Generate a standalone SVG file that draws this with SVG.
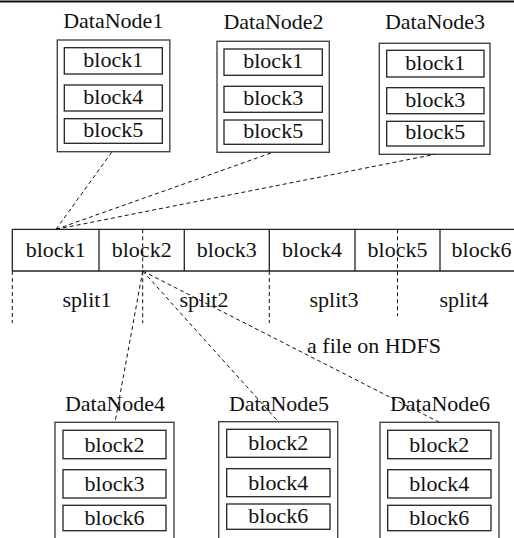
<svg xmlns="http://www.w3.org/2000/svg" width="514" height="538" viewBox="0 0 514 538">
  <style>
    text { font-family: "Liberation Serif", "Times New Roman", Times, serif; font-size: 22px; fill: #111; text-anchor: middle; }
    .node { fill: none; stroke: #444; stroke-width: 1.4; }
    .blk { fill: none; stroke: #222; stroke-width: 1.3; }
    .bar { fill: none; stroke: #222; stroke-width: 1.3; }
    .dash { fill: none; stroke: #111; stroke-width: 1; stroke-dasharray: 4 3; }
  </style>
  <rect width="514" height="538" fill="#fff"/>
  <!-- top rule -->
  <line x1="0" y1="1.5" x2="514" y2="1.5" stroke="#111" stroke-width="2"/>

  <!-- upper data nodes -->
  <g id="datanode1">
    <text x="113.3" y="28">DataNode1</text>
    <rect class="node" x="57.3" y="40" width="112.5" height="111.7"/>
    <rect class="blk" x="64.3" y="47.7" width="98" height="26.3"/>
    <text x="113.3" y="67">block1</text>
    <rect class="blk" x="64.3" y="85" width="98" height="26"/>
    <text x="113.3" y="104">block4</text>
    <rect class="blk" x="64.3" y="118.7" width="98" height="24.6"/>
    <text x="113.3" y="136.5">block5</text>
  </g>
  <g id="datanode2">
    <text x="273.5" y="28.5">DataNode2</text>
    <rect class="node" x="217" y="41.3" width="112.3" height="111"/>
    <rect class="blk" x="224" y="49" width="98.3" height="26.3"/>
    <text x="273.2" y="68.3">block1</text>
    <rect class="blk" x="224" y="86.3" width="98.3" height="26"/>
    <text x="273.2" y="105.3">block3</text>
    <rect class="blk" x="224" y="120" width="98.3" height="24.3"/>
    <text x="273.2" y="137.5">block5</text>
  </g>
  <g id="datanode3">
    <text x="435" y="29">DataNode3</text>
    <rect class="node" x="379.3" y="43.3" width="110.7" height="111"/>
    <rect class="blk" x="386.7" y="50.3" width="97.3" height="26.7"/>
    <text x="435.3" y="70">block1</text>
    <rect class="blk" x="386.7" y="87.7" width="97.3" height="26"/>
    <text x="435.3" y="106.7">block3</text>
    <rect class="blk" x="386.7" y="121.3" width="97.3" height="24.7"/>
    <text x="435.3" y="139.2">block5</text>
  </g>

  <!-- the file as a row of blocks -->
  <g id="hdfs-file">
    <line class="bar" x1="12.3" y1="229.3" x2="514" y2="229.3"/>
    <line class="bar" x1="12.3" y1="271" x2="514" y2="271" stroke="#444" stroke-width="1.6"/>
    <line class="bar" x1="12.3" y1="229.3" x2="12.3" y2="271"/>
    <line class="bar" x1="99" y1="229.3" x2="99" y2="271" stroke="#444"/>
    <line class="bar" x1="184.3" y1="229.3" x2="184.3" y2="271" stroke="#444"/>
    <line class="bar" x1="269.3" y1="229.3" x2="269.3" y2="271"/>
    <line class="bar" x1="355" y1="229.3" x2="355" y2="271" stroke="#444"/>
    <line class="bar" x1="440" y1="229.3" x2="440" y2="271" stroke="#444"/>
    <text x="55.7" y="256.5">block1</text>
    <text x="141.7" y="256.5">block2</text>
    <text x="226.8" y="256.5">block3</text>
    <text x="312" y="256.5">block4</text>
    <text x="397.5" y="256.5">block5</text>
    <text x="481.5" y="256.5">block6</text>
    <text x="87" y="307">split1</text>
    <text x="204" y="307">split2</text>
    <text x="334" y="307">split3</text>
    <text x="464" y="307">split4</text>
    <text x="374" y="353.3">a file on HDFS</text>
  </g>

  <!-- split boundaries and replica connectors -->
  <g id="connectors">
    <line class="dash" x1="12.3" y1="271" x2="12.3" y2="323"/>
    <line class="dash" x1="142.7" y1="229.3" x2="142.7" y2="323"/>
    <line class="dash" x1="269.3" y1="271" x2="269.3" y2="323"/>
    <line class="dash" x1="397.5" y1="229.3" x2="397.5" y2="316"/>

    <line class="dash" x1="56" y1="229.3" x2="112" y2="151.7"/>
    <line class="dash" x1="56" y1="229.3" x2="273" y2="152.3"/>
    <line class="dash" x1="56" y1="229.3" x2="435" y2="154.3"/>

    <line class="dash" x1="142.7" y1="271" x2="115" y2="422.3"/>
    <line class="dash" x1="142.7" y1="271" x2="278.3" y2="421.7"/>
    <line class="dash" x1="142.7" y1="271" x2="439.3" y2="422.3"/>
  </g>

  <!-- lower data nodes -->
  <g id="datanode4">
    <text x="115" y="410.7">DataNode4</text>
    <rect class="node" x="55" y="422.3" width="119" height="130"/>
    <rect class="blk" x="63" y="430.3" width="103" height="28.4"/>
    <text x="114.5" y="451.5">block2</text>
    <rect class="blk" x="63" y="469.7" width="103" height="28.3"/>
    <text x="114.5" y="491">block3</text>
    <rect class="blk" x="63" y="505.3" width="103" height="25.4"/>
    <text x="114.5" y="524.5">block6</text>
  </g>
  <g id="datanode5">
    <text x="279" y="410.7">DataNode5</text>
    <rect class="node" x="218.7" y="421.7" width="119" height="130"/>
    <rect class="blk" x="226.7" y="429.3" width="103.3" height="28"/>
    <text x="278.3" y="450">block2</text>
    <rect class="blk" x="226.7" y="468.7" width="103.3" height="28"/>
    <text x="278.3" y="489.5">block4</text>
    <rect class="blk" x="226.7" y="504" width="103.3" height="25.3"/>
    <text x="278.3" y="523">block6</text>
  </g>
  <g id="datanode6">
    <text x="440" y="410.7">DataNode6</text>
    <rect class="node" x="380" y="422.3" width="119" height="130"/>
    <rect class="blk" x="387.7" y="430.3" width="103.3" height="28.4"/>
    <text x="439.3" y="451.5">block2</text>
    <rect class="blk" x="387.7" y="469.7" width="103.3" height="28.3"/>
    <text x="439.3" y="491">block4</text>
    <rect class="blk" x="387.7" y="505.3" width="103.3" height="25.4"/>
    <text x="439.3" y="524.5">block6</text>
  </g>
</svg>
